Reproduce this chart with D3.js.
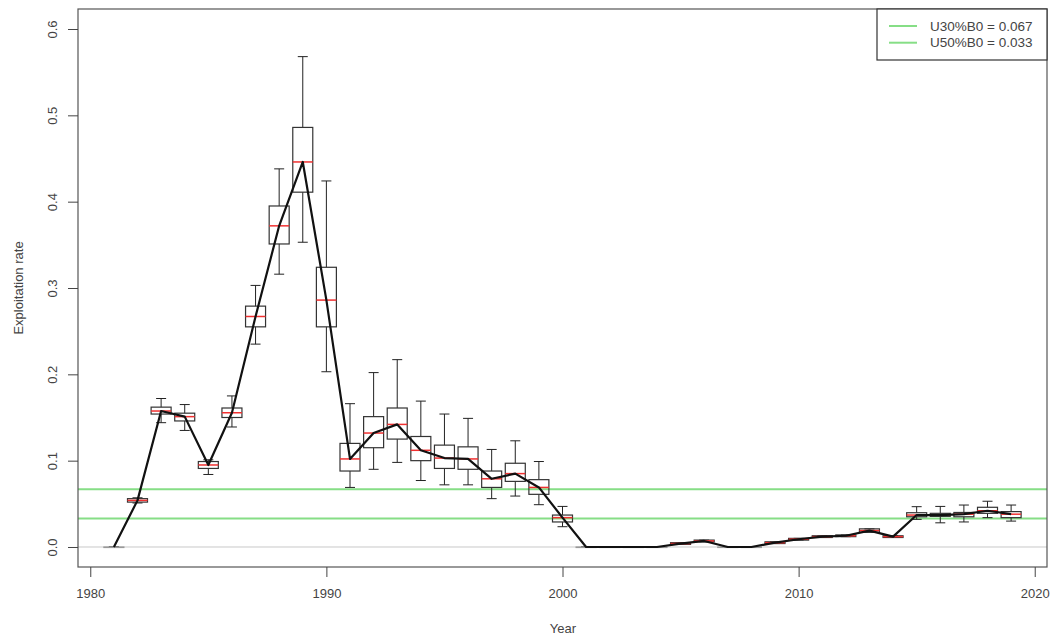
<!DOCTYPE html>
<html>
<head>
<meta charset="utf-8">
<script src="https://cdn.jsdelivr.net/npm/d3@7"></script>
<style>
body { margin: 0; background: #fff; }
text { font-family: "Liberation Sans", Arial, sans-serif; }
</style>
</head>
<body>
<script>
const years = d3.range(1981, 2020);
const median = [0, 0.054, 0.1575, 0.151, 0.095, 0.1555, 0.267, 0.372, 0.446, 0.286,
  0.102, 0.132, 0.142, 0.112, 0.103, 0.102, 0.079, 0.085, 0.069, 0.034,
  0, 0, 0, 0, 0.004, 0.007, 0, 0, 0.005, 0.009,
  0.012, 0.013, 0.019, 0.012, 0.037, 0.037, 0.038, 0.042, 0.038];
const q1 = [0, 0.052, 0.154, 0.146, 0.091, 0.150, 0.255, 0.351, 0.411, 0.255,
  0.088, 0.115, 0.125, 0.100, 0.091, 0.090, 0.069, 0.076, 0.061, 0.029,
  0, 0, 0, 0, 0.003, 0.006, 0, 0, 0.004, 0.008,
  0.011, 0.012, 0.017, 0.011, 0.035, 0.0355, 0.035, 0.039, 0.034];
const q3 = [0, 0.056, 0.162, 0.155, 0.099, 0.161, 0.279, 0.395, 0.486, 0.324,
  0.120, 0.151, 0.161, 0.128, 0.118, 0.116, 0.088, 0.097, 0.078, 0.037,
  0, 0, 0, 0, 0.005, 0.008, 0, 0, 0.006, 0.010,
  0.013, 0.014, 0.021, 0.013, 0.0397, 0.039, 0.040, 0.046, 0.041];
const whiskerLo = [0, 0.051, 0.144, 0.135, 0.084, 0.139, 0.235, 0.316, 0.353, 0.203,
  0.069, 0.090, 0.098, 0.077, 0.072, 0.072, 0.056, 0.059, 0.049, 0.0235,
  0, 0, 0, 0, 0.003, 0.006, 0, 0, 0.004, 0.008,
  0.011, 0.012, 0.017, 0.011, 0.032, 0.028, 0.029, 0.034, 0.030];
const whiskerHi = [0, 0.057, 0.172, 0.165, 0.101, 0.175, 0.303, 0.438, 0.568, 0.424,
  0.166, 0.202, 0.217, 0.169, 0.154, 0.149, 0.113, 0.123, 0.099, 0.047,
  0, 0, 0, 0, 0.005, 0.008, 0, 0, 0.006, 0.010,
  0.013, 0.014, 0.021, 0.013, 0.0467, 0.047, 0.0486, 0.053, 0.0486];
const refNames = ["U30%B0 = 0.067", "U50%B0 = 0.033"];
const refValues = [0.067, 0.033];
const xTicks = [1980, 1990, 2000, 2010, 2020];
const yTicks = [0, 0.1, 0.2, 0.3, 0.4, 0.5, 0.6];

const w = 1054, h = 640;
const pLeft = 78, pRight = 1047, pTop = 9, pBottom = 567;

const rows = years.map((yr, i) => ({
  year: yr, med: median[i], q1: q1[i], q3: q3[i], lo: whiskerLo[i], hi: whiskerHi[i]
}));

const x = d3.scaleLinear().domain([1979.48, 2020.52]).range([pLeft, pRight]);
const y = d3.scaleLinear().domain([-0.02317, 0.62317]).range([pBottom, pTop]);

const svg = d3.select("body").append("svg")
  .attr("width", w)
  .attr("height", h);

// zero line
svg.append("line")
  .attr("x1", pLeft).attr("x2", pRight)
  .attr("y1", y(0)).attr("y2", y(0))
  .attr("stroke", "#c8c8c8").attr("stroke-width", 1);

// reference lines
svg.selectAll(".ref")
  .data(refValues)
  .enter()
  .append("line")
  .attr("class", "ref")
  .attr("x1", pLeft).attr("x2", pRight)
  .attr("y1", d => y(d)).attr("y2", d => y(d))
  .attr("stroke", "#86de86").attr("stroke-width", 2);

const boxW = 20, capW = 10;
const g = svg.selectAll(".bx")
  .data(rows)
  .enter()
  .append("g")
  .attr("class", "bx");

g.append("line")
  .attr("x1", d => x(d.year)).attr("x2", d => x(d.year))
  .attr("y1", d => y(d.hi)).attr("y2", d => y(d.q3))
  .attr("stroke", "#222");
g.append("line")
  .attr("x1", d => x(d.year)).attr("x2", d => x(d.year))
  .attr("y1", d => y(d.q1)).attr("y2", d => y(d.lo))
  .attr("stroke", "#222");
g.append("line")
  .attr("x1", d => x(d.year) - capW / 2).attr("x2", d => x(d.year) + capW / 2)
  .attr("y1", d => y(d.hi)).attr("y2", d => y(d.hi))
  .attr("stroke", "#222");
g.append("line")
  .attr("x1", d => x(d.year) - capW / 2).attr("x2", d => x(d.year) + capW / 2)
  .attr("y1", d => y(d.lo)).attr("y2", d => y(d.lo))
  .attr("stroke", "#222");
g.append("rect")
  .attr("x", d => x(d.year) - boxW / 2)
  .attr("y", d => y(d.q3))
  .attr("width", boxW)
  .attr("height", d => Math.max(0.5, y(d.q1) - y(d.q3)))
  .attr("fill", "none")
  .attr("stroke", d => d.q3 > d.q1 ? "#333" : "#999")
  .attr("stroke-width", 1.2);
g.filter(d => d.q3 > d.q1)
  .append("line")
  .attr("x1", d => x(d.year) - boxW / 2).attr("x2", d => x(d.year) + boxW / 2)
  .attr("y1", d => y(d.med)).attr("y2", d => y(d.med))
  .attr("stroke", "#f03030").attr("stroke-width", 1.5);

// median trajectory
svg.append("path")
  .datum(rows)
  .attr("d", d3.line().x(d => x(d.year)).y(d => y(d.med)))
  .attr("fill", "none")
  .attr("stroke", "#111")
  .attr("stroke-width", 2.2)
  .attr("stroke-linejoin", "round");

// frame
svg.append("rect")
  .attr("x", pLeft).attr("y", pTop)
  .attr("width", pRight - pLeft).attr("height", pBottom - pTop)
  .attr("fill", "none").attr("stroke", "#555").attr("stroke-width", 1.2);

// axes
const xAxis = svg.append("g")
  .attr("transform", "translate(0," + pBottom + ")")
  .call(d3.axisBottom(x).tickValues(xTicks).tickFormat(d3.format("d")).tickSize(10).tickPadding(12));
xAxis.select(".domain").remove();
xAxis.selectAll("line").attr("stroke", "#444");
xAxis.selectAll("text").style("font-size", "13px").attr("fill", "#444");

const yAxis = svg.append("g")
  .attr("transform", "translate(" + pLeft + ",0)")
  .call(d3.axisLeft(y).tickValues(yTicks).tickFormat(d3.format(".1f")).tickSize(10).tickPadding(0));
yAxis.select(".domain").remove();
yAxis.selectAll("line").attr("stroke", "#444");
yAxis.selectAll("text")
  .style("font-size", "13px").attr("fill", "#444")
  .attr("x", null)
  .attr("text-anchor", "middle")
  .attr("transform", "translate(-26,0) rotate(-90)")
  .attr("dy", "0.35em");

svg.append("text")
  .attr("x", 563).attr("y", 633)
  .attr("text-anchor", "middle")
  .style("font-size", "13px").attr("fill", "#444")
  .text("Year");

svg.append("text")
  .attr("transform", "translate(23," + ((pTop + pBottom) / 2) + ") rotate(-90)")
  .attr("text-anchor", "middle")
  .style("font-size", "13px").attr("fill", "#444")
  .text("Exploitation rate");

// legend
const lg = svg.append("g");
lg.append("rect")
  .attr("x", 877).attr("y", pTop)
  .attr("width", pRight - 877).attr("height", 51)
  .attr("fill", "#fff").attr("stroke", "#333").attr("stroke-width", 1.2);
refNames.forEach((name, i) => {
  lg.append("line")
    .attr("x1", 889).attr("x2", 917)
    .attr("y1", 26 + i * 16.7).attr("y2", 26 + i * 16.7)
    .attr("stroke", "#86de86").attr("stroke-width", 2);
  lg.append("text")
    .attr("x", 930).attr("y", 30.5 + i * 16.7)
    .style("font-size", "13.5px").attr("fill", "#444")
    .text(name);
});
</script>
</body>
</html>
